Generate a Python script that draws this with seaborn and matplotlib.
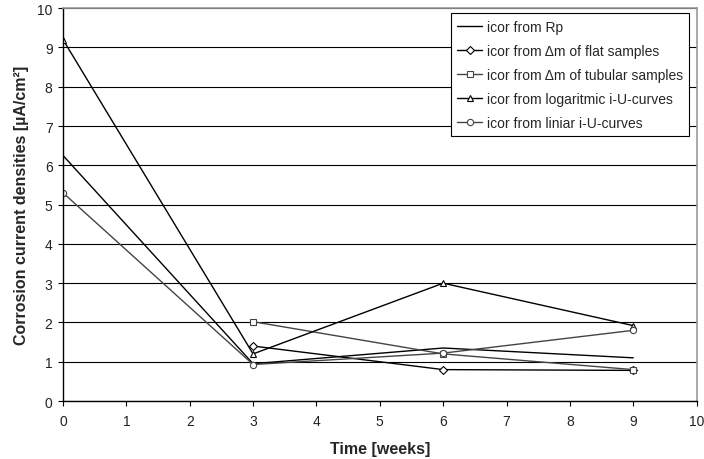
import matplotlib
matplotlib.use("Agg")
import matplotlib.pyplot as plt
import seaborn as sns
import pandas as pd

sns.set_theme(style="white")
plt.rcParams["font.family"] = ["Liberation Sans", "DejaVu Sans"]

weeks_full = [0, 3, 6, 9]
weeks_late = [3, 6, 9]

icor_rp = [6.25, 0.95, 1.35, 1.1]
icor_flat = [1.4, 0.8, 0.78]
icor_tubular = [2.02, 1.2, 0.8]
icor_log = [9.2, 1.2, 3.0, 1.92]
icor_lin = [5.3, 0.93, 1.22, 1.8]

series = [
    ("icor from Rp", weeks_full, icor_rp, None, "#000000"),
    ("icor from \u0394m of flat samples", weeks_late, icor_flat, "D", "#000000"),
    ("icor from \u0394m of tubular samples", weeks_late, icor_tubular, "s", "#444444"),
    ("icor from logaritmic i-U-curves", weeks_full, icor_log, "^", "#000000"),
    ("icor from liniar i-U-curves", weeks_full, icor_lin, "o", "#444444"),
]

fig = plt.figure(figsize=(7.04, 4.6), dpi=100)
ax = fig.add_axes([0.0895, 0.126, 0.9, 0.854])

for name, xs, ys, mk, col in series:
    df = pd.DataFrame({"t": xs, "v": ys})
    sns.lineplot(data=df, x="t", y="v", ax=ax, color=col, lw=1.0,
                 marker=mk if mk else None,
                 markersize=4.5 if mk != "D" else 3.8,
                 markerfacecolor="white", markeredgecolor=col,
                 markeredgewidth=0.8, label=name)

ax.set_xlim(0, 10)
ax.set_ylim(0, 10)
ax.set_xticks(range(0, 11))
ax.set_yticks(range(0, 11))
ax.yaxis.grid(True, color="#000000", lw=0.8)
ax.set_axisbelow(True)

for side in ["top", "right"]:
    ax.spines[side].set_color("#999999")
    ax.spines[side].set_linewidth(1.2)
for side in ["left", "bottom"]:
    ax.spines[side].set_color("#000000")
    ax.spines[side].set_linewidth(1.0)

ax.tick_params(axis="both", direction="out", length=3.5, width=0.8,
               color="#000000", labelsize=10, labelcolor="#222222")
ax.tick_params(axis="x", pad=6)
ax.tick_params(axis="y", pad=4)
ax.tick_params(bottom=True, left=True)

ax.set_xlabel("Time [weeks]", fontsize=11.5, fontweight="bold", labelpad=9)
ax.set_ylabel("Corrosion current densities [\u00b5A/cm\u00b2]", fontsize=11.5,
              fontweight="bold", labelpad=6)

leg = ax.legend(loc="upper right", bbox_to_anchor=(0.988, 0.987), fontsize=10,
                frameon=True, fancybox=False, handlelength=1.8,
                handletextpad=0.3, borderpad=0.45, labelspacing=0.72,
                borderaxespad=0.0)
leg.get_frame().set_edgecolor("#000000")
leg.get_frame().set_linewidth(0.8)
leg.get_frame().set_alpha(1)

fig.savefig("out.png", dpi=100)
